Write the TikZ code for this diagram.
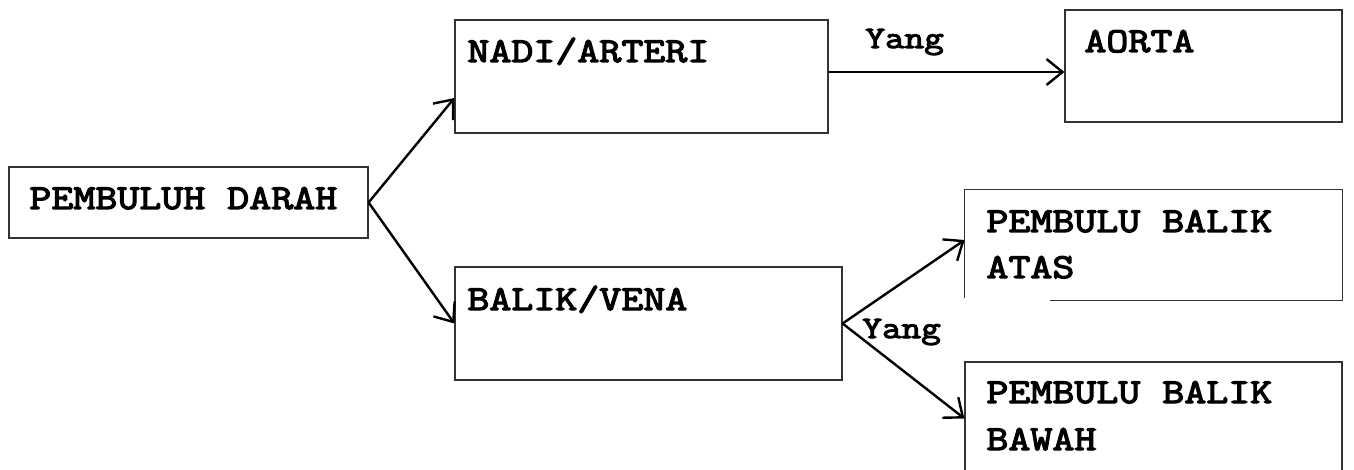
\documentclass[tikz,border=0pt]{standalone}
\usepackage{fontspec}
\setmonofont{Latin Modern Mono}[FakeStretch=1.22,AutoFakeBold=3.6]
\usetikzlibrary{arrows.meta,calc}
\begin{document}
\begin{tikzpicture}[x=0.5pt,y=-0.5pt,
  box/.style={draw=black!80,line width=0.6pt,rectangle,inner sep=0pt},
  boxline/.style={draw=black!80,line width=0.6pt},
  txt/.style={anchor=base west,inner sep=0pt,font=\ttfamily\bfseries\fontsize{17.5}{23}\selectfont},
  small/.style={anchor=base west,inner sep=0pt,font=\ttfamily\bfseries\fontsize{15.6}{20}\selectfont},
  conn/.style={draw=black,line width=1.2pt,-{Straight Barb[length=8pt,width=13pt,line width=1.2pt]}}]
\useasboundingbox (0,0) rectangle (1354,470);
% boxes
\node[box,minimum width=179.5pt,minimum height=35.5pt] (darah) at (188.5,202.5) {};
\node[box,minimum width=186.5pt,minimum height=56.5pt] (nadi) at (641.5,76.5) {};
\node[box,minimum width=138.5pt,minimum height=56pt] (aorta) at (1203.5,66) {};
\node[box,minimum width=193.5pt,minimum height=56.5pt] (vena) at (648.5,323.5) {};
\node[inner sep=0pt,minimum width=188.5pt,minimum height=55pt] (atas) at (1153.5,245) {};
\draw[boxline] ([xshift=42.5pt]atas.south west) -- (atas.south east) -- (atas.north east) -- (atas.north west) -- ([yshift=1pt]atas.south west);
\node[box,minimum width=188.5pt,minimum height=56.5pt] (bawah) at (1153.5,418.5) {};
% texts
\node[txt] (t1) at (29,209) {PEMBULUH DARAH};
\node[txt] (t2) at (467,62) {NADI/ARTERI};
\node[txt] (t3) at (1084,52) {AORTA};
\node[txt] (t4) at (467,310) {BALIK/VENA};
\node[txt] (t5) at (986,232) {PEMBULU BALIK};
\node[txt] (t6) at (986,278) {ATAS};
\node[txt] (t7) at (986,403) {PEMBULU BALIK};
\node[txt] (t8) at (986,450) {BAWAH};
\node[small] (y1) at (865,48) {Yang};
\node[small] (y2) at (862,338) {Yang};
% connectors
\draw[conn] (darah.east) -- ([yshift=-10.75pt]nadi.west);
\draw[conn] (darah.east) -- (vena.west);
\draw[conn] ([yshift=2.25pt]nadi.east) -- ([yshift=2.25pt]nadi.east -| aorta.west);
\draw[conn] (vena.east) -- ([yshift=2.5pt]atas.west);
\draw[conn] (vena.east) -- (bawah.west);
\end{tikzpicture}
\end{document}
